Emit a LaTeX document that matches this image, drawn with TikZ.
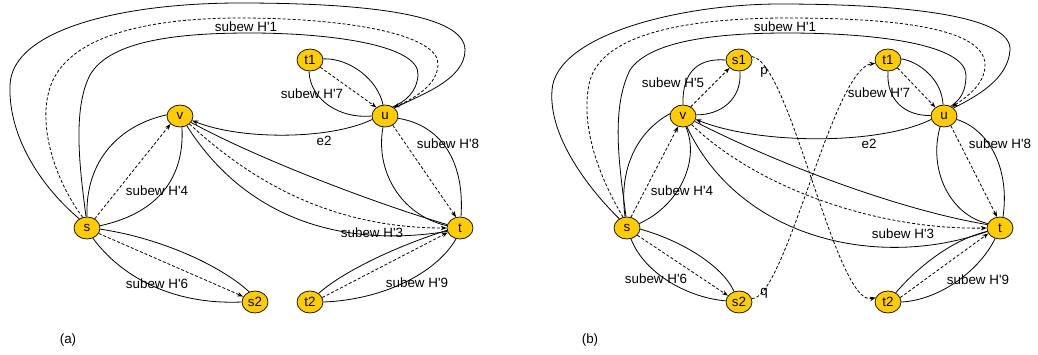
\documentclass[tikz,border=0pt]{standalone}
\usepackage{fontspec}
\setmainfont{Liberation Sans}[Ligatures=TeXOff]
\usetikzlibrary{shapes.geometric,arrows.meta}
\definecolor{nodegold}{RGB}{255,204,0}
\newcommand{\lblfont}{\fontsize{13.4}{16}\selectfont}
\tikzset{
 vtx/.style={ellipse, draw=black, line width=0.7pt, fill=nodegold, minimum width=26pt, minimum height=22pt, inner sep=0pt, font=\lblfont},
 ed/.style={line width=0.8pt, draw=black},
 dsh/.style={ed, dash pattern=on 3pt off 2pt},
 arr/.style={-{Stealth[length=6pt,width=4.5pt]}},
 lab/.style={inner sep=0pt, font=\lblfont},
}
\begin{document}
\begin{tikzpicture}[x=1pt,y=-1pt]
\useasboundingbox (0,0) rectangle (1038,354);
% ---------------- panel (a) ----------------
\node[vtx] (as) at (87,228) {s};
\node[vtx] (av) at (180,116) {v};
\node[vtx] (at1) at (310,60) {t1};
\node[vtx] (au) at (385,116) {u};
\node[vtx] (at) at (460,228) {t};
\node[vtx] (as2) at (255,302) {s2};
\node[vtx] (at2) at (310,302) {t2};
% H'1
\draw[ed] (as.130) .. controls (45,190) and (8,140) .. (10,85) .. controls (12,30) and (120,3) .. (240,3) .. controls (370,3) and (465,15) .. (465,50) .. controls (465,80) and (420,95) .. (au.40);
\draw[dsh,arr] (as.112) .. controls (55,180) and (40,130) .. (48,95) .. controls (60,35) and (150,18) .. (240,18) .. controls (350,18) and (440,35) .. (438,65) .. controls (437,85) and (415,98) .. (au.45);
\draw[ed] (as.95) .. controls (80,170) and (72,110) .. (90,75) .. controls (110,40) and (180,33) .. (250,33) .. controls (330,33) and (420,45) .. (418,75) .. controls (417,92) and (405,102) .. (au.50);
\node[lab] (la1) at (246,27) {subew H'1};
% H'7
\draw[ed] (at1.5) .. controls (350,58) and (378,80) .. (au.100);
\draw[ed] (at1.-95) .. controls (310,100) and (340,119) .. (au.180);
\draw[dsh,arr] (at1.-35) -- (au.135);
\node[lab] (la7) at (312,94) {subew H'7};
% e2
\draw[ed,arr] (au.195) .. controls (330,140) and (240,140) .. (av.-20);
\node[lab] (lae2) at (324,141) {e2};
% H'8
\draw[ed] (au.-10) .. controls (440,125) and (465,160) .. (at.85);
\draw[ed] (au.-100) .. controls (375,170) and (400,215) .. (at.170);
\draw[dsh,arr] (au.-50) -- (at.110);
\node[lab] (la8) at (448,144) {subew H'8};
% H'3
\draw[ed] (av.-30) .. controls (260,160) and (380,205) .. (at.165);
\draw[dsh,arr] (av.-40) .. controls (250,180) and (330,228) .. (at.180);
\draw[ed] (av.-55) .. controls (240,210) and (330,250) .. (at.195);
\node[lab] (la3) at (372,233) {subew H'3};
% H'4
\draw[ed] (as.90) .. controls (85,160) and (120,125) .. (av.175);
\draw[ed] (as.10) .. controls (150,215) and (185,185) .. (av.-80);
\draw[dsh,arr] (as.50) -- (av.-140);
\node[lab] (la4) at (157,191) {subew H'4};
% H'6
\draw[ed] (as.-5) .. controls (160,238) and (220,265) .. (as2.120);
\draw[ed] (as.-60) .. controls (120,275) and (170,305) .. (as2.180);
\draw[dsh,arr] (as.-25) -- (as2.155);
\node[lab] (la6) at (157,284) {subew H'6};
% H'9
\draw[ed] (at2.45) .. controls (345,270) and (400,245) .. (at.190);
\draw[ed] (at2.0) .. controls (380,300) and (435,275) .. (at.-110);
\draw[dsh,arr] (at2.20) -- (at.200);
\node[lab] (la9) at (417,283) {subew H'9};
\node[lab] (capa) at (68,340) {(a)};
% ---------------- panel (b) ----------------
\node[vtx] (bs) at (627,228) {s};
\node[vtx] (bv) at (683,116) {v};
\node[vtx] (bs1) at (739,60) {s1};
\node[vtx] (bs2) at (739,302) {s2};
\node[vtx] (bt1) at (888,60) {t1};
\node[vtx] (bu) at (944,116) {u};
\node[vtx] (bt) at (1000,228) {t};
\node[vtx] (bt2) at (888,302) {t2};
% H'1
\draw[ed] (bs.130) .. controls (595,195) and (548,140) .. (552,90) .. controls (556,35) and (680,4) .. (780,4) .. controls (900,4) and (1012,15) .. (1010,50) .. controls (1008,80) and (975,97) .. (bu.40);
\draw[dsh,arr] (bs.110) .. controls (595,170) and (580,120) .. (590,80) .. controls (605,30) and (700,18) .. (787,18) .. controls (880,18) and (985,25) .. (985,65) .. controls (985,85) and (965,98) .. (bu.48);
\draw[ed] (bs.95) .. controls (620,170) and (610,110) .. (630,70) .. controls (650,40) and (720,33) .. (787,33) .. controls (880,33) and (965,45) .. (966,75) .. controls (966,92) and (960,100) .. (bu.55);
\node[lab] (lb1) at (785,27) {subew H'1};
% H'5
\draw[ed] (bv.90) .. controls (682,70) and (700,58) .. (bs1.180);
\draw[ed] (bs1.-85) .. controls (742,100) and (720,115) .. (bv.5);
\draw[dsh,arr] (bv.50) -- (bs1.-140);
\node[lab] (lb5) at (673,83) {subew H'5};
% p and q
\draw[dsh,arr] (bs1.15) .. controls (790,60) and (836,308) .. (bt2.160);
\node[lab] (lbp) at (764,72) {p};
\draw[dsh,arr] (bs2.15) .. controls (785,300) and (833,68) .. (bt1.195);
\node[lab] (lbq) at (764,293) {q};
% H'7
\draw[ed] (bt1.5) .. controls (920,62) and (942,80) .. (bu.95);
\draw[ed] (bt1.-90) .. controls (886,100) and (905,116) .. (bu.178);
\draw[dsh,arr] (bt1.-40) -- (bu.135);
\node[lab] (lb7) at (879,93) {subew H'7};
% e2
\draw[ed,arr] (bu.195) .. controls (880,145) and (760,145) .. (bv.-15);
\node[lab] (lbe2) at (869,144) {e2};
% H'8
\draw[ed] (bu.-15) .. controls (990,130) and (1010,170) .. (bt.75);
\draw[ed] (bu.-110) .. controls (928,170) and (950,215) .. (bt.160);
\draw[dsh,arr] (bu.-55) -- (bt.105);
\node[lab] (lb8) at (1000,144) {subew H'8};
% H'3
\draw[ed] (bv.-25) .. controls (780,165) and (900,210) .. (bt.165);
\draw[dsh,arr] (bv.-45) .. controls (760,190) and (880,230) .. (bt.180);
\draw[ed] (bv.-70) .. controls (740,240) and (880,270) .. (bt.195);
\node[lab] (lb3) at (903,234) {subew H'3};
% H'4
\draw[ed] (bs.100) .. controls (618,165) and (640,130) .. (bv.170);
\draw[ed] (bs.20) .. controls (680,205) and (700,160) .. (bv.-75);
\draw[dsh,arr] (bs.70) -- (bv.-115);
\node[lab] (lb4) at (682,191) {subew H'4};
% H'6
\draw[ed] (bs.-5) .. controls (680,240) and (722,265) .. (bs2.115);
\draw[ed] (bs.-70) .. controls (645,275) and (690,298) .. (bs2.175);
\draw[dsh,arr] (bs.-35) -- (bs2.150);
\node[lab] (lb6) at (656,279) {subew H'6};
% H'9
\draw[ed] (bt2.50) .. controls (915,270) and (950,240) .. (bt.195);
\draw[ed] (bt2.0) .. controls (940,300) and (980,270) .. (bt.-115);
\draw[dsh,arr] (bt2.20) -- (bt.205);
\node[lab] (lb9) at (978,280) {subew H'9};
\node[lab] (capb) at (590,340) {(b)};
\end{tikzpicture}
\end{document}
